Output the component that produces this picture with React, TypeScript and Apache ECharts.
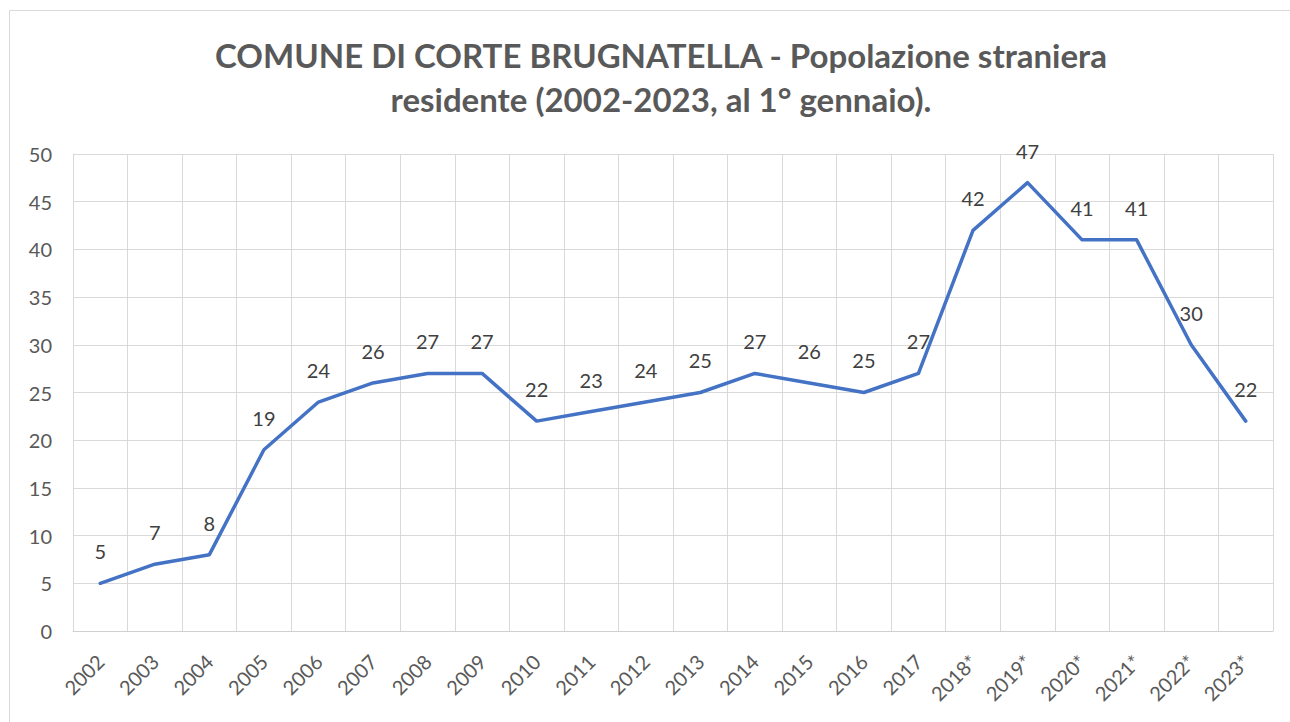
import React, { useEffect, useRef } from "react";
import * as echarts from "echarts";

const categories = [
  "2002", "2003", "2004", "2005", "2006", "2007", "2008", "2009", "2010", "2011", "2012",
  "2013", "2014", "2015", "2016", "2017", "2018*", "2019*", "2020*", "2021*", "2022*", "2023*",
];
const values = [5, 7, 8, 19, 24, 26, 27, 27, 22, 23, 24, 25, 27, 26, 25, 27, 42, 47, 41, 41, 30, 22];
const titleLines = [
  "COMUNE DI CORTE BRUGNATELLA - Popolazione straniera",
  "residente (2002-2023, al 1° gennaio).",
];

export default function App() {
  const ref = useRef<HTMLDivElement>(null);
  useEffect(() => {
    if (!ref.current) return;
    const chart = echarts.init(ref.current, null, { renderer: "svg" });
    chart.setOption({
      animation: false,
      backgroundColor: "#ffffff",
      graphic: [
        {
          type: "rect",
          shape: { x: 9.5, y: 10.5, width: 1300, height: 730 },
          style: { fill: "none", stroke: "#d9d9d9", lineWidth: 1 },
          silent: true,
        },
      ],
      title: {
        text: titleLines.join("\n"),
        left: 656,
        textAlign: "center",
        top: 28,
        textStyle: {
          fontFamily: "Lato",
          fontWeight: "bold",
          fontSize: 33,
          lineHeight: 44,
          color: "#595959",
        },
      },
      grid: { left: 73, right: 17, top: 154, bottom: 91, containLabel: false },
      xAxis: {
        type: "category",
        data: categories,
        boundaryGap: true,
        axisLine: { show: true, lineStyle: { color: "#d0d0d0", width: 1 } },
        axisTick: { show: false },
        splitLine: { show: true, lineStyle: { color: "#d9d9d9", width: 1 } },
        axisLabel: {
          rotate: 45,
          interval: 0,
          margin: 27,
          fontFamily: "Lato",
          fontSize: 20,
          color: "#595959",
        },
      },
      yAxis: {
        type: "value",
        min: 0,
        max: 50,
        interval: 5,
        axisLine: { show: true, lineStyle: { color: "#d9d9d9", width: 1 } },
        axisTick: { show: false },
        splitLine: { show: true, lineStyle: { color: "#d9d9d9", width: 1 } },
        axisLabel: {
          margin: 21,
          fontFamily: "Lato",
          fontSize: 20,
          color: "#595959",
        },
      },
      series: [
        {
          type: "line",
          data: values,
          showSymbol: true,
          symbol: "circle",
          symbolSize: 0.01,
          itemStyle: { color: "#4472C4" },
          lineStyle: { color: "#4472C4", width: 3.5, cap: "round", join: "round" },
          label: {
            show: true,
            position: "top",
            distance: 22,
            fontFamily: "Lato",
            fontSize: 20,
            color: "#404040",
          },
          z: 3,
        },
      ],
    });
    return () => chart.dispose();
  }, []);
  return <div ref={ref} style={{ width: 1290, height: 722, position: "absolute", left: 0, top: 0 }} />;
}
